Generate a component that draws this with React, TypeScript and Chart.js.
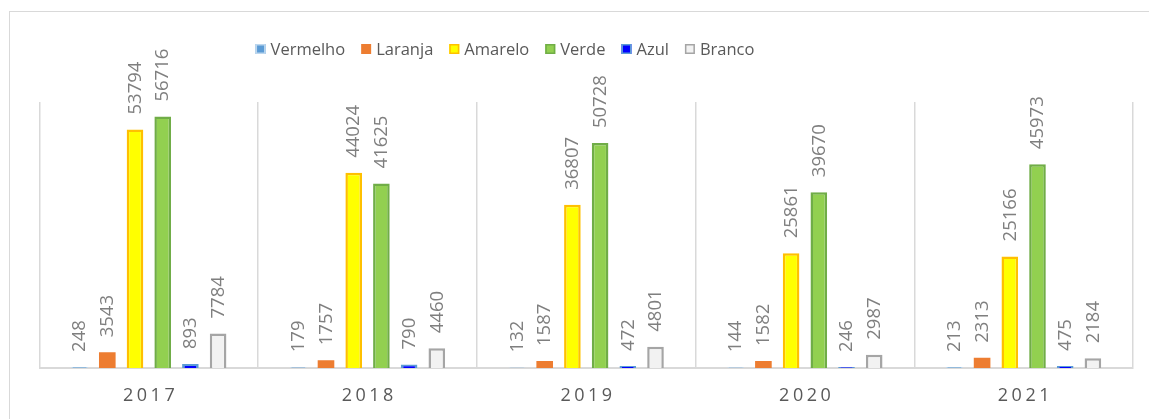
import React, { useEffect, useRef } from "react";
import { Chart, registerables } from "chart.js";

Chart.register(...registerables);

const years = ["2017", "2018", "2019", "2020", "2021"];
const vermelho = [248, 179, 132, 144, 213];
const laranja = [3543, 1757, 1587, 1582, 2313];
const amarelo = [53794, 44024, 36807, 25861, 25166];
const verde = [56716, 41625, 50728, 39670, 45973];
const azul = [893, 790, 472, 246, 475];
const branco = [7784, 4460, 4801, 2987, 2184];

const FONT = "'Open Sans', 'Noto Sans', sans-serif";

const labelsPlugin = {
  id: "valueLabels",
  afterDatasetsDraw(chart: any) {
    const ctx = chart.ctx;
    ctx.save();
    ctx.fillStyle = "#7f7f7f";
    ctx.font = `18.5px ${FONT}`;
    ctx.textAlign = "left";
    ctx.textBaseline = "middle";
    chart.data.datasets.forEach((ds: any, di: number) => {
      const meta = chart.getDatasetMeta(di);
      meta.data.forEach((bar: any, i: number) => {
        ctx.save();
        ctx.translate(bar.x + 0.5, bar.y - 15);
        ctx.rotate(-Math.PI / 2);
        ctx.fillText(String(ds.data[i]), 0, 0);
        ctx.restore();
      });
    });
    ctx.restore();
  },
};

const axisLabelsPlugin = {
  id: "axisLabels",
  afterDraw(chart: any) {
    const ctx = chart.ctx;
    const xs = chart.scales.x;
    ctx.save();
    ctx.fillStyle = "#595959";
    ctx.font = `18px ${FONT}`;
    (ctx as any).letterSpacing = "3.5px";
    ctx.textAlign = "left";
    ctx.textBaseline = "middle";
    years.forEach((y, i) => {
      const px = xs.getPixelForValue(i);
      const w = ctx.measureText(y).width - 3.5;
      ctx.fillText(y, px - w / 2, chart.chartArea.bottom + 28);
    });
    ctx.restore();
  },
};

const legendPlugin = {
  id: "customLegend",
  afterDraw(chart: any) {
    const ctx = chart.ctx;
    ctx.save();
    ctx.font = `16.5px ${FONT}`;
    ctx.textBaseline = "middle";
    ctx.textAlign = "left";
    const box = 10;
    const gapText = 5;
    const gapItem = 16;
    const items = chart.data.datasets.map((ds: any) => ({
      label: ds.label,
      bg: ds.backgroundColor,
      bd: ds.borderColor,
      bw: ds.borderWidth,
      w: box + gapText + ctx.measureText(ds.label).width,
    }));
    const total =
      items.reduce((s: number, it: any) => s + it.w, 0) + gapItem * (items.length - 1);
    let x = 505 - total / 2;
    const cy = 49;
    items.forEach((it: any) => {
      ctx.fillStyle = it.bg;
      ctx.fillRect(x, cy - box / 2, box, box);
      if (it.bw > 0) {
        ctx.strokeStyle = it.bd;
        ctx.lineWidth = 1.5;
        ctx.strokeRect(x + 0.75, cy - box / 2 + 0.75, box - 1.5, box - 1.5);
      }
      ctx.fillStyle = "#595959";
      ctx.fillText(it.label, x + box + gapText, cy + 1);
      x += it.w + gapItem;
    });
    ctx.restore();
  },
};

export default function App() {
  const ref = useRef<HTMLCanvasElement>(null);
  useEffect(() => {
    if (!ref.current) return;
    const mk = (label: string, data: number[], bg: string, bd: string, bw: number) => ({
      label,
      data,
      backgroundColor: bg,
      borderColor: bd,
      borderWidth: bw,
      borderSkipped: "bottom" as const,
    });
    const chart = new Chart(ref.current, {
      type: "bar",
      data: {
        labels: years,
        datasets: [
          mk("Vermelho", vermelho, "#5B9BD5", "#BDD7EE", 1.5),
          mk("Laranja", laranja, "#ED7D31", "#ED7D31", 0),
          mk("Amarelo", amarelo, "#FFFF00", "#FFC000", 2.5),
          mk("Verde", verde, "#92D050", "#70AD47", 2.5),
          mk("Azul", azul, "#0000FF", "#5B9BD5", 2.5),
          mk("Branco", branco, "#F2F2F2", "#A5A5A5", 2.5),
        ],
      },
      options: {
        responsive: false,
        animation: false,
        layout: { padding: { left: 39.5, right: 16, top: 102, bottom: 51 } },
        datasets: { bar: { categoryPercentage: 0.76, barPercentage: 0.6 } },
        plugins: { legend: { display: false }, tooltip: { enabled: false } },
        scales: {
          x: {
            offset: true,
            grid: { offset: true, color: "#d9d9d9", lineWidth: 1.5, drawTicks: false },
            border: { color: "#d9d9d9", width: 2 },
            ticks: { display: false },
          },
          y: { display: false, min: 0, max: 60000 },
        },
      },
      plugins: [labelsPlugin, axisLabelsPlugin, legendPlugin],
    });
    return () => chart.destroy();
  }, []);
  return (
    <div style={{ position: "absolute", left: 0, top: 0, width: 1149, height: 419, overflow: "hidden", background: "#fff" }}>
      <div style={{ position: "absolute", left: 9, top: 11, width: 1200, height: 500, border: "1px solid #d9d9d9" }} />
      <canvas ref={ref} width={1149} height={419} style={{ position: "absolute", left: 0, top: 0 }} />
    </div>
  );
}
